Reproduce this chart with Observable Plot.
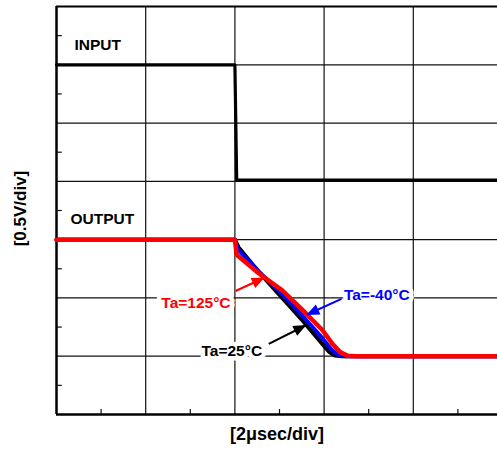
<!DOCTYPE html>
<html><head><meta charset="utf-8">
<script src="https://cdn.jsdelivr.net/npm/d3@7"></script>
<script src="https://cdn.jsdelivr.net/npm/@observablehq/plot@0.6"></script>
<style>body{margin:0;background:#fff}</style>
</head><body><div id="chart"></div>
<script>
// Axis extents in divisions (x: 2 µs/div, y: 0.5 V/div)
const xMax = 4.944;
const yMax = 7;
const gridXDiv = [1, 2, 3, 4];
const gridYDiv = [1, 2, 3, 4, 5, 6];
const minorXDiv = [0.5, 1.5, 2.5, 3.5, 4.5];
const minorYDiv = [0.5, 1.5, 2.5, 3.5, 4.5, 5.5, 6.5];

// INPUT trace
const inputX = [0, 2.0, 2.02, 4.944];
const inputY = [6, 6, 4.02, 4.02];

// OUTPUT traces
const out25X  = [0, 2.0, 2.04, 2.27, 2.53, 2.76, 2.98, 3.06, 3.12, 3.2, 4.944];
const out25Y  = [3, 3, 2.87, 2.44, 2.0, 1.61, 1.21, 1.07, 1.01, 1.0, 1.0];
const outM40X = [0, 2.0, 2.03, 2.27, 2.53, 2.76, 2.98, 3.08, 3.15, 3.24, 4.944];
const outM40Y = [3, 3, 2.84, 2.45, 2.06, 1.69, 1.31, 1.12, 1.03, 1.0, 1.0];
const out125X = [0, 2.0, 2.02, 2.27, 2.53, 2.76, 2.98, 3.1, 3.18, 3.26, 3.35, 4.944];
const out125Y = [3, 3, 2.74, 2.42, 2.13, 1.79, 1.45, 1.2, 1.07, 1.01, 1.0, 1.0];

// Annotation labels
const labelText  = ["INPUT", "OUTPUT", "Ta=125°C", "Ta=25°C", "Ta=-40°C"];
const labelX     = [0.202, 0.157, 1.175, 1.625, 3.222];
const labelY     = [6.343, 3.349, 1.913, 1.089, 2.050];
const labelColor = ["black", "black", "#ff0000", "black", "#0000ff"];
const labelHalo  = [false, false, true, true, true];

// Annotation arrows (tail -> tip)
const arrowX1 = [2.007, 3.195, 2.380];
const arrowY1 = [2.119, 1.985, 1.213];
const arrowX2 = [2.324, 2.811, 2.791];
const arrowY2 = [2.342, 1.716, 1.527];
const arrowColor = ["#ff0000", "#0000ff", "black"];

const W = 497, H = 456, mL = 56, mR = 0, mT = 6, mB = 42;
const font = "'Liberation Sans', Arial, Helvetica, sans-serif";

const toPts = (xs, ys) => xs.map((x, i) => ({x, y: ys[i]}));
const inputData = toPts(inputX, inputY);
const d25 = toPts(out25X, out25Y);
const dM40 = toPts(outM40X, outM40Y);
const d125 = toPts(out125X, out125Y);
const labels = labelText.map((t, i) => ({t, x: labelX[i], y: labelY[i], c: labelColor[i], halo: labelHalo[i]}));
const arrows = arrowX1.map((x1, i) => ({x1, y1: arrowY1[i], x2: arrowX2[i], y2: arrowY2[i], c: arrowColor[i]}));

const sx = Plot.scale({x: {domain: [0, xMax], range: [mL, W - mR]}});
const sy = Plot.scale({y: {domain: [0, yMax], range: [H - mB, mT]}});
function headSymbol(a) {
  const ang = Math.atan2(sy.apply(a.y2) - sy.apply(a.y1), sx.apply(a.x2) - sx.apply(a.x1));
  const c = Math.cos(ang), s = Math.sin(ang);
  const pts = [[1, 0], [-12, -5.5], [-12, 5.5]].map(([u, v]) => [u * c - v * s, u * s + v * c]);
  return {draw(ctx) { ctx.moveTo(pts[0][0], pts[0][1]); ctx.lineTo(pts[1][0], pts[1][1]); ctx.lineTo(pts[2][0], pts[2][1]); ctx.closePath(); }};
}

const chart = Plot.plot({
  width: W, height: H,
  marginLeft: mL, marginRight: mR, marginTop: mT, marginBottom: mB,
  style: {fontFamily: font, background: "white"},
  x: {domain: [0, xMax], axis: null},
  y: {domain: [0, yMax], axis: null},
  marks: [
    Plot.ruleX(gridXDiv, {stroke: "#111", strokeWidth: 1.2}),
    Plot.ruleY(gridYDiv, {stroke: "#111", strokeWidth: 1.2}),
    Plot.ruleY(minorYDiv, {x1: 0, x2: 0.065, stroke: "#111", strokeWidth: 1.2}),
    Plot.ruleX(minorXDiv, {y1: 0, y2: 0.085, stroke: "#111", strokeWidth: 1.2}),
    Plot.ruleX([0], {stroke: "black", strokeWidth: 2.5}),
    Plot.ruleY([0], {stroke: "black", strokeWidth: 2.5}),
    Plot.ruleY([yMax], {stroke: "black", strokeWidth: 2}),
    Plot.line(inputData, {x: "x", y: "y", stroke: "black", strokeWidth: 3.2}),
    Plot.line(d25, {x: "x", y: "y", stroke: "black", strokeWidth: 4, strokeLinejoin: "round"}),
    Plot.line(dM40, {x: "x", y: "y", stroke: "#0000ff", strokeWidth: 4, strokeLinejoin: "round"}),
    Plot.line(d125, {x: "x", y: "y", stroke: "#ff0000", strokeWidth: 4.5, strokeLinejoin: "round"}),
    Plot.text(labels.filter(d => d.halo), {x: "x", y: "y", text: "t", fill: "c", textAnchor: "start",
      fontSize: 15.5, fontWeight: "bold", stroke: "white", strokeWidth: 9, paintOrder: "stroke"}),
    Plot.text(labels.filter(d => !d.halo), {x: "x", y: "y", text: "t", fill: "c", textAnchor: "start",
      fontSize: 15.5, fontWeight: "bold"}),
    Plot.link(arrows, {x1: "x1", y1: "y1", x2: "x2", y2: "y2", stroke: "c", strokeWidth: 2}),
    ...arrows.map(a => Plot.dot([a], {x: "x2", y: "y2", symbol: headSymbol(a), fill: a.c, stroke: "none"})),
    Plot.text(["[2μsec/div]"], {frameAnchor: "bottom", textAnchor: "middle", dy: 25.5, fontSize: 18, fontWeight: "bold", fill: "black"}),
    Plot.text(["[0.5V/div]"], {frameAnchor: "left", textAnchor: "middle", dx: -36, dy: -2, rotate: -90, fontSize: 17, fontWeight: "bold", fill: "black"})
  ]
});
document.getElementById("chart").appendChild(chart);
</script>
</body></html>
